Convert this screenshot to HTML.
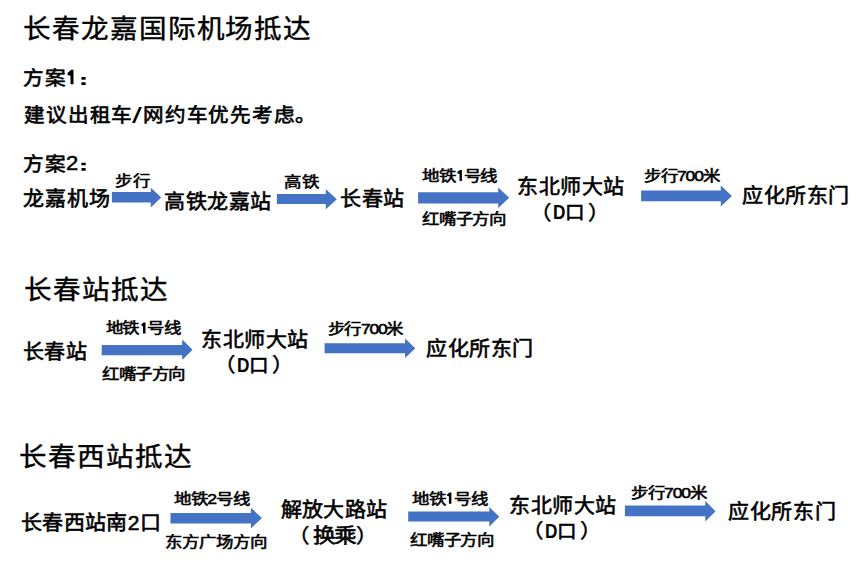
<!DOCTYPE html>
<html lang="zh-CN"><head><meta charset="utf-8"><title>长春龙嘉国际机场抵达</title>
<style>
html,body{margin:0;padding:0;background:#fff;}
body{width:865px;height:562px;position:relative;overflow:hidden;font-family:"Liberation Sans",sans-serif;color:#000;}
.t{position:absolute;white-space:nowrap;line-height:1;transform-origin:0 0;}
svg{position:absolute;left:0;top:0;}
.h{color:transparent;-webkit-text-stroke-color:transparent;}
</style></head><body>
<svg width="865" height="562" viewBox="0 0 865 562">
<polygon id="a1" points="111.9,192.1 150.8,192.1 150.8,187.7 161.2,197.6 150.8,207.5 150.8,202.4 111.9,202.4" fill="#4472C4"/>
<polygon id="a2" points="276.9,194.1 325.8,194.1 325.8,189.3 336.8,199.25 325.8,209.2 325.8,204 276.9,204" fill="#4472C4"/>
<polygon id="a3" points="418.1,192.3 498.2,192.3 498.2,187.5 509.2,197.75 498.2,208 498.2,203.4 418.1,203.4" fill="#4472C4"/>
<polygon id="a4" points="641.1,190.5 720.8,190.5 720.8,185.4 731.9,195.9 720.8,206.4 720.8,201.3 641.1,201.3" fill="#4472C4"/>
<polygon id="a5" points="101.7,344.9 182.2,344.9 182.2,339.6 192.5,349.85 182.2,360.1 182.2,355.3 101.7,355.3" fill="#4472C4"/>
<polygon id="a6" points="324.6,343.2 405.1,343.2 405.1,338.4 415.3,348.2 405.1,358 405.1,353.3 324.6,353.3" fill="#4472C4"/>
<polygon id="a7" points="170.5,513.1 250.9,513.1 250.9,507.8 261.9,518.1 250.9,528.4 250.9,523.6 170.5,523.6" fill="#4472C4"/>
<polygon id="a8" points="408.2,511.6 489.3,511.6 489.3,507.1 499.3,516.8 489.3,526.5 489.3,521.6 408.2,521.6" fill="#4472C4"/>
<polygon id="a9" points="624.9,505.5 705.3,505.5 705.3,501.1 715.5,511.25 705.3,521.4 705.3,516.3 624.9,516.3" fill="#4472C4"/>
</svg>
<svg width="865" height="562" viewBox="0 0 865 562" style="z-index:2">
<polygon points="70.50,84.20 73.50,84.20 73.50,69.80 71.25,69.80 67.40,73.00 67.65,75.00 70.50,75.75" fill="#000"/>
<polygon points="459.50,180.90 461.90,180.90 461.90,170.00 460.10,170.00 457.30,171.80 457.55,173.50 459.50,173.77" fill="#000"/>
<polygon points="143.00,333.60 145.50,333.60 145.50,322.40 143.62,322.40 141.40,324.20 141.65,325.90 143.00,326.17" fill="#000"/>
<polygon points="448.90,503.80 451.40,503.80 451.40,492.60 449.52,492.60 447.00,494.40 447.25,496.10 448.90,496.37" fill="#000"/>
<rect x="81.40" y="77.10" width="4.30" height="2.60" rx="0.6" fill="#000"/><rect x="81.40" y="82.30" width="4.30" height="2.70" rx="0.6" fill="#000"/>
<rect x="81.40" y="162.70" width="4.30" height="2.60" rx="0.6" fill="#000"/><rect x="81.40" y="168.10" width="4.30" height="2.70" rx="0.6" fill="#000"/>
</svg>
<div class="t" id="h1" style="left:23.40px;top:15.70px;font-size:26.5px;font-weight:400;letter-spacing:1.811px;transform:scaleX(1.040);-webkit-text-stroke:0.4px #000;">长春龙嘉国际机场抵达</div>
<div class="t" id="h2" style="left:23.60px;top:277.30px;font-size:26.5px;font-weight:400;letter-spacing:1.802px;transform:scaleX(1.040);-webkit-text-stroke:0.4px #000;">长春站抵达</div>
<div class="t" id="h3" style="left:19.00px;top:444.30px;font-size:26.5px;font-weight:400;letter-spacing:1.797px;transform:scaleX(1.040);-webkit-text-stroke:0.4px #000;">长春西站抵达</div>
<div class="t" id="p1a" style="left:23.40px;top:68.90px;font-size:19.8px;font-weight:400;letter-spacing:1.363px;transform:scaleX(1.040);-webkit-text-stroke:0.65px #000;">方案</div>
<div class="t" id="p2a" style="left:24.40px;top:105.90px;font-size:19.8px;font-weight:400;letter-spacing:1.009px;transform:scaleX(1.040);-webkit-text-stroke:0.65px #000;">建议出租车</div>
<div class="t" id="p2b" style="left:131.60px;top:105.50px;font-size:21.45px;font-weight:400;letter-spacing:0.000px;transform:scaleX(1.656);">/</div>
<div class="t" id="p2c" style="left:142.60px;top:105.90px;font-size:19.8px;font-weight:400;letter-spacing:0.924px;transform:scaleX(1.040);-webkit-text-stroke:0.65px #000;">网约车优先考虑。</div>
<div class="t" id="p3a" style="left:23.00px;top:154.70px;font-size:19.8px;font-weight:400;letter-spacing:1.443px;transform:scaleX(1.040);-webkit-text-stroke:0.65px #000;">方案</div>
<div class="t" id="p3b" style="left:65.60px;top:153.00px;font-size:20.07px;font-weight:400;letter-spacing:0.000px;transform:scaleX(1.098);-webkit-text-stroke:0.5px #000;">2</div>
<div class="t" id="r1a" style="left:23.20px;top:188.90px;font-size:20px;font-weight:400;letter-spacing:1.085px;transform:scaleX(1.050);-webkit-text-stroke:0.6px #000;">龙嘉机场</div>
<div class="t" id="r1b" style="left:164.40px;top:191.60px;font-size:20px;font-weight:400;letter-spacing:0.555px;transform:scaleX(1.050);-webkit-text-stroke:0.6px #000;">高铁龙嘉站</div>
<div class="t" id="r1c" style="left:340.00px;top:189.30px;font-size:20px;font-weight:400;letter-spacing:0.665px;transform:scaleX(1.050);-webkit-text-stroke:0.6px #000;">长春站</div>
<div class="t" id="r1d" style="left:516.60px;top:177.30px;font-size:20px;font-weight:400;letter-spacing:0.565px;transform:scaleX(1.050);-webkit-text-stroke:0.6px #000;">东北师大站</div>
<div class="t" id="r1f" style="left:741.80px;top:185.70px;font-size:20px;font-weight:400;letter-spacing:0.559px;transform:scaleX(1.050);-webkit-text-stroke:0.6px #000;">应化所东门</div>
<div class="t" id="l1a" style="left:115.00px;top:173.50px;font-size:14.8px;font-weight:400;letter-spacing:0.476px;transform:scaleX(1.180);-webkit-text-stroke:0.55px #000;">步行</div>
<div class="t" id="l1b" style="left:284.00px;top:174.50px;font-size:14.8px;font-weight:400;letter-spacing:0.099px;transform:scaleX(1.180);-webkit-text-stroke:0.55px #000;">高铁</div>
<div class="t" id="l1c" style="left:422.40px;top:168.50px;font-size:14.8px;font-weight:400;letter-spacing:-0.995px;transform:scaleX(1.180);-webkit-text-stroke:0.55px #000;">地铁<span class="h">1</span>号线</div>
<div class="t" id="l1d" style="left:422.40px;top:211.90px;font-size:14.8px;font-weight:400;letter-spacing:-0.746px;transform:scaleX(1.180);-webkit-text-stroke:0.55px #000;">红嘴子方向</div>
<div class="t" id="l1e" style="left:643.60px;top:169.30px;font-size:14.8px;font-weight:400;letter-spacing:-0.993px;transform:scaleX(1.180);-webkit-text-stroke:0.55px #000;">步行700米</div>
<div class="t" id="r2a" style="left:23.00px;top:341.50px;font-size:20px;font-weight:400;letter-spacing:0.415px;transform:scaleX(1.050);-webkit-text-stroke:0.6px #000;">长春站</div>
<div class="t" id="l2a" style="left:106.40px;top:321.30px;font-size:14.8px;font-weight:400;letter-spacing:-1.075px;transform:scaleX(1.180);-webkit-text-stroke:0.55px #000;">地铁<span class="h">1</span>号线</div>
<div class="t" id="l2b" style="left:102.40px;top:367.30px;font-size:14.8px;font-weight:400;letter-spacing:-0.952px;transform:scaleX(1.180);-webkit-text-stroke:0.55px #000;">红嘴子方向</div>
<div class="t" id="r2b" style="left:201.00px;top:330.10px;font-size:20px;font-weight:400;letter-spacing:0.498px;transform:scaleX(1.050);-webkit-text-stroke:0.6px #000;">东北师大站</div>
<div class="t" id="l2c" style="left:327.60px;top:321.50px;font-size:14.8px;font-weight:400;letter-spacing:-1.028px;transform:scaleX(1.180);-webkit-text-stroke:0.55px #000;">步行700米</div>
<div class="t" id="r2d" style="left:426.40px;top:338.90px;font-size:20px;font-weight:400;letter-spacing:0.549px;transform:scaleX(1.050);-webkit-text-stroke:0.6px #000;">应化所东门</div>
<div class="t" id="r3a" style="left:21.40px;top:512.80px;font-size:20px;font-weight:400;letter-spacing:0.326px;transform:scaleX(1.050);-webkit-text-stroke:0.6px #000;">长春西站南2口</div>
<div class="t" id="l3a" style="left:174.40px;top:492.10px;font-size:14.8px;font-weight:400;letter-spacing:-0.890px;transform:scaleX(1.180);-webkit-text-stroke:0.55px #000;">地铁2号线</div>
<div class="t" id="l3b" style="left:164.80px;top:535.30px;font-size:14.8px;font-weight:400;letter-spacing:-0.592px;transform:scaleX(1.180);-webkit-text-stroke:0.55px #000;">东方广场方向</div>
<div class="t" id="r3b" style="left:280.60px;top:500.10px;font-size:20px;font-weight:400;letter-spacing:0.190px;transform:scaleX(1.050);-webkit-text-stroke:0.6px #000;">解放大路站</div>
<div class="t" id="l3c" style="left:411.60px;top:492.10px;font-size:14.8px;font-weight:400;letter-spacing:-0.857px;transform:scaleX(1.180);-webkit-text-stroke:0.55px #000;">地铁<span class="h">1</span>号线</div>
<div class="t" id="l3d" style="left:410.40px;top:532.50px;font-size:14.8px;font-weight:400;letter-spacing:-0.779px;transform:scaleX(1.180);-webkit-text-stroke:0.55px #000;">红嘴子方向</div>
<div class="t" id="r3d" style="left:508.60px;top:495.80px;font-size:20px;font-weight:400;letter-spacing:0.479px;transform:scaleX(1.050);-webkit-text-stroke:0.6px #000;">东北师大站</div>
<div class="t" id="l3e" style="left:631.20px;top:486.10px;font-size:14.8px;font-weight:400;letter-spacing:-0.979px;transform:scaleX(1.180);-webkit-text-stroke:0.55px #000;">步行700米</div>
<div class="t" id="r3f" style="left:728.20px;top:501.50px;font-size:20px;font-weight:400;letter-spacing:0.626px;transform:scaleX(1.050);-webkit-text-stroke:0.6px #000;">应化所东门</div>
<div class="t" id="gA1e" style="left:529.70px;top:203.60px;font-size:19.5px;font-weight:400;letter-spacing:0.000px;transform:scaleX(1.100);-webkit-text-stroke:0.5px #000;">（</div>
<div class="t" id="gB1e" style="left:552.70px;top:200.60px;font-size:21px;font-weight:700;letter-spacing:0.000px;transform:scaleX(0.820);">D</div>
<div class="t" id="gC1e" style="left:564.70px;top:203.60px;font-size:18.6px;font-weight:400;letter-spacing:0.000px;transform:scaleX(1.050);-webkit-text-stroke:0.6px #000;">口</div>
<div class="t" id="gD1e" style="left:587.70px;top:203.60px;font-size:19.5px;font-weight:400;letter-spacing:0.000px;transform:scaleX(1.100);-webkit-text-stroke:0.5px #000;">）</div>
<div class="t" id="gA2c" style="left:214.20px;top:355.60px;font-size:19.5px;font-weight:400;letter-spacing:0.000px;transform:scaleX(1.100);-webkit-text-stroke:0.5px #000;">（</div>
<div class="t" id="gB2c" style="left:236.70px;top:353.60px;font-size:21px;font-weight:700;letter-spacing:0.000px;transform:scaleX(0.820);">D</div>
<div class="t" id="gC2c" style="left:249.20px;top:356.60px;font-size:18.6px;font-weight:400;letter-spacing:0.000px;transform:scaleX(1.050);-webkit-text-stroke:0.6px #000;">口</div>
<div class="t" id="gD2c" style="left:271.70px;top:355.60px;font-size:19.5px;font-weight:400;letter-spacing:0.000px;transform:scaleX(1.100);-webkit-text-stroke:0.5px #000;">）</div>
<div class="t" id="gA3e" style="left:521.70px;top:521.60px;font-size:19.5px;font-weight:400;letter-spacing:0.000px;transform:scaleX(1.100);-webkit-text-stroke:0.5px #000;">（</div>
<div class="t" id="gB3e" style="left:544.70px;top:519.60px;font-size:21px;font-weight:700;letter-spacing:0.000px;transform:scaleX(0.820);">D</div>
<div class="t" id="gC3e" style="left:557.20px;top:522.60px;font-size:18.6px;font-weight:400;letter-spacing:0.000px;transform:scaleX(1.050);-webkit-text-stroke:0.6px #000;">口</div>
<div class="t" id="gD3e" style="left:579.70px;top:521.60px;font-size:19.5px;font-weight:400;letter-spacing:0.000px;transform:scaleX(1.100);-webkit-text-stroke:0.5px #000;">）</div>
<div class="t" id="gA3c" style="left:287.70px;top:526.60px;font-size:19.5px;font-weight:400;letter-spacing:0.000px;transform:scaleX(1.100);-webkit-text-stroke:0.5px #000;">（</div>
<div class="t" id="r3c" style="left:312.70px;top:526.10px;font-size:20.3px;font-weight:400;letter-spacing:-1.440px;transform:scaleX(1.120);-webkit-text-stroke:0.6px #000;">换乘</div>
<div class="t" id="gD3c" style="left:356.20px;top:526.60px;font-size:19.5px;font-weight:400;letter-spacing:0.000px;transform:scaleX(1.100);-webkit-text-stroke:0.5px #000;">）</div>
</body></html>
